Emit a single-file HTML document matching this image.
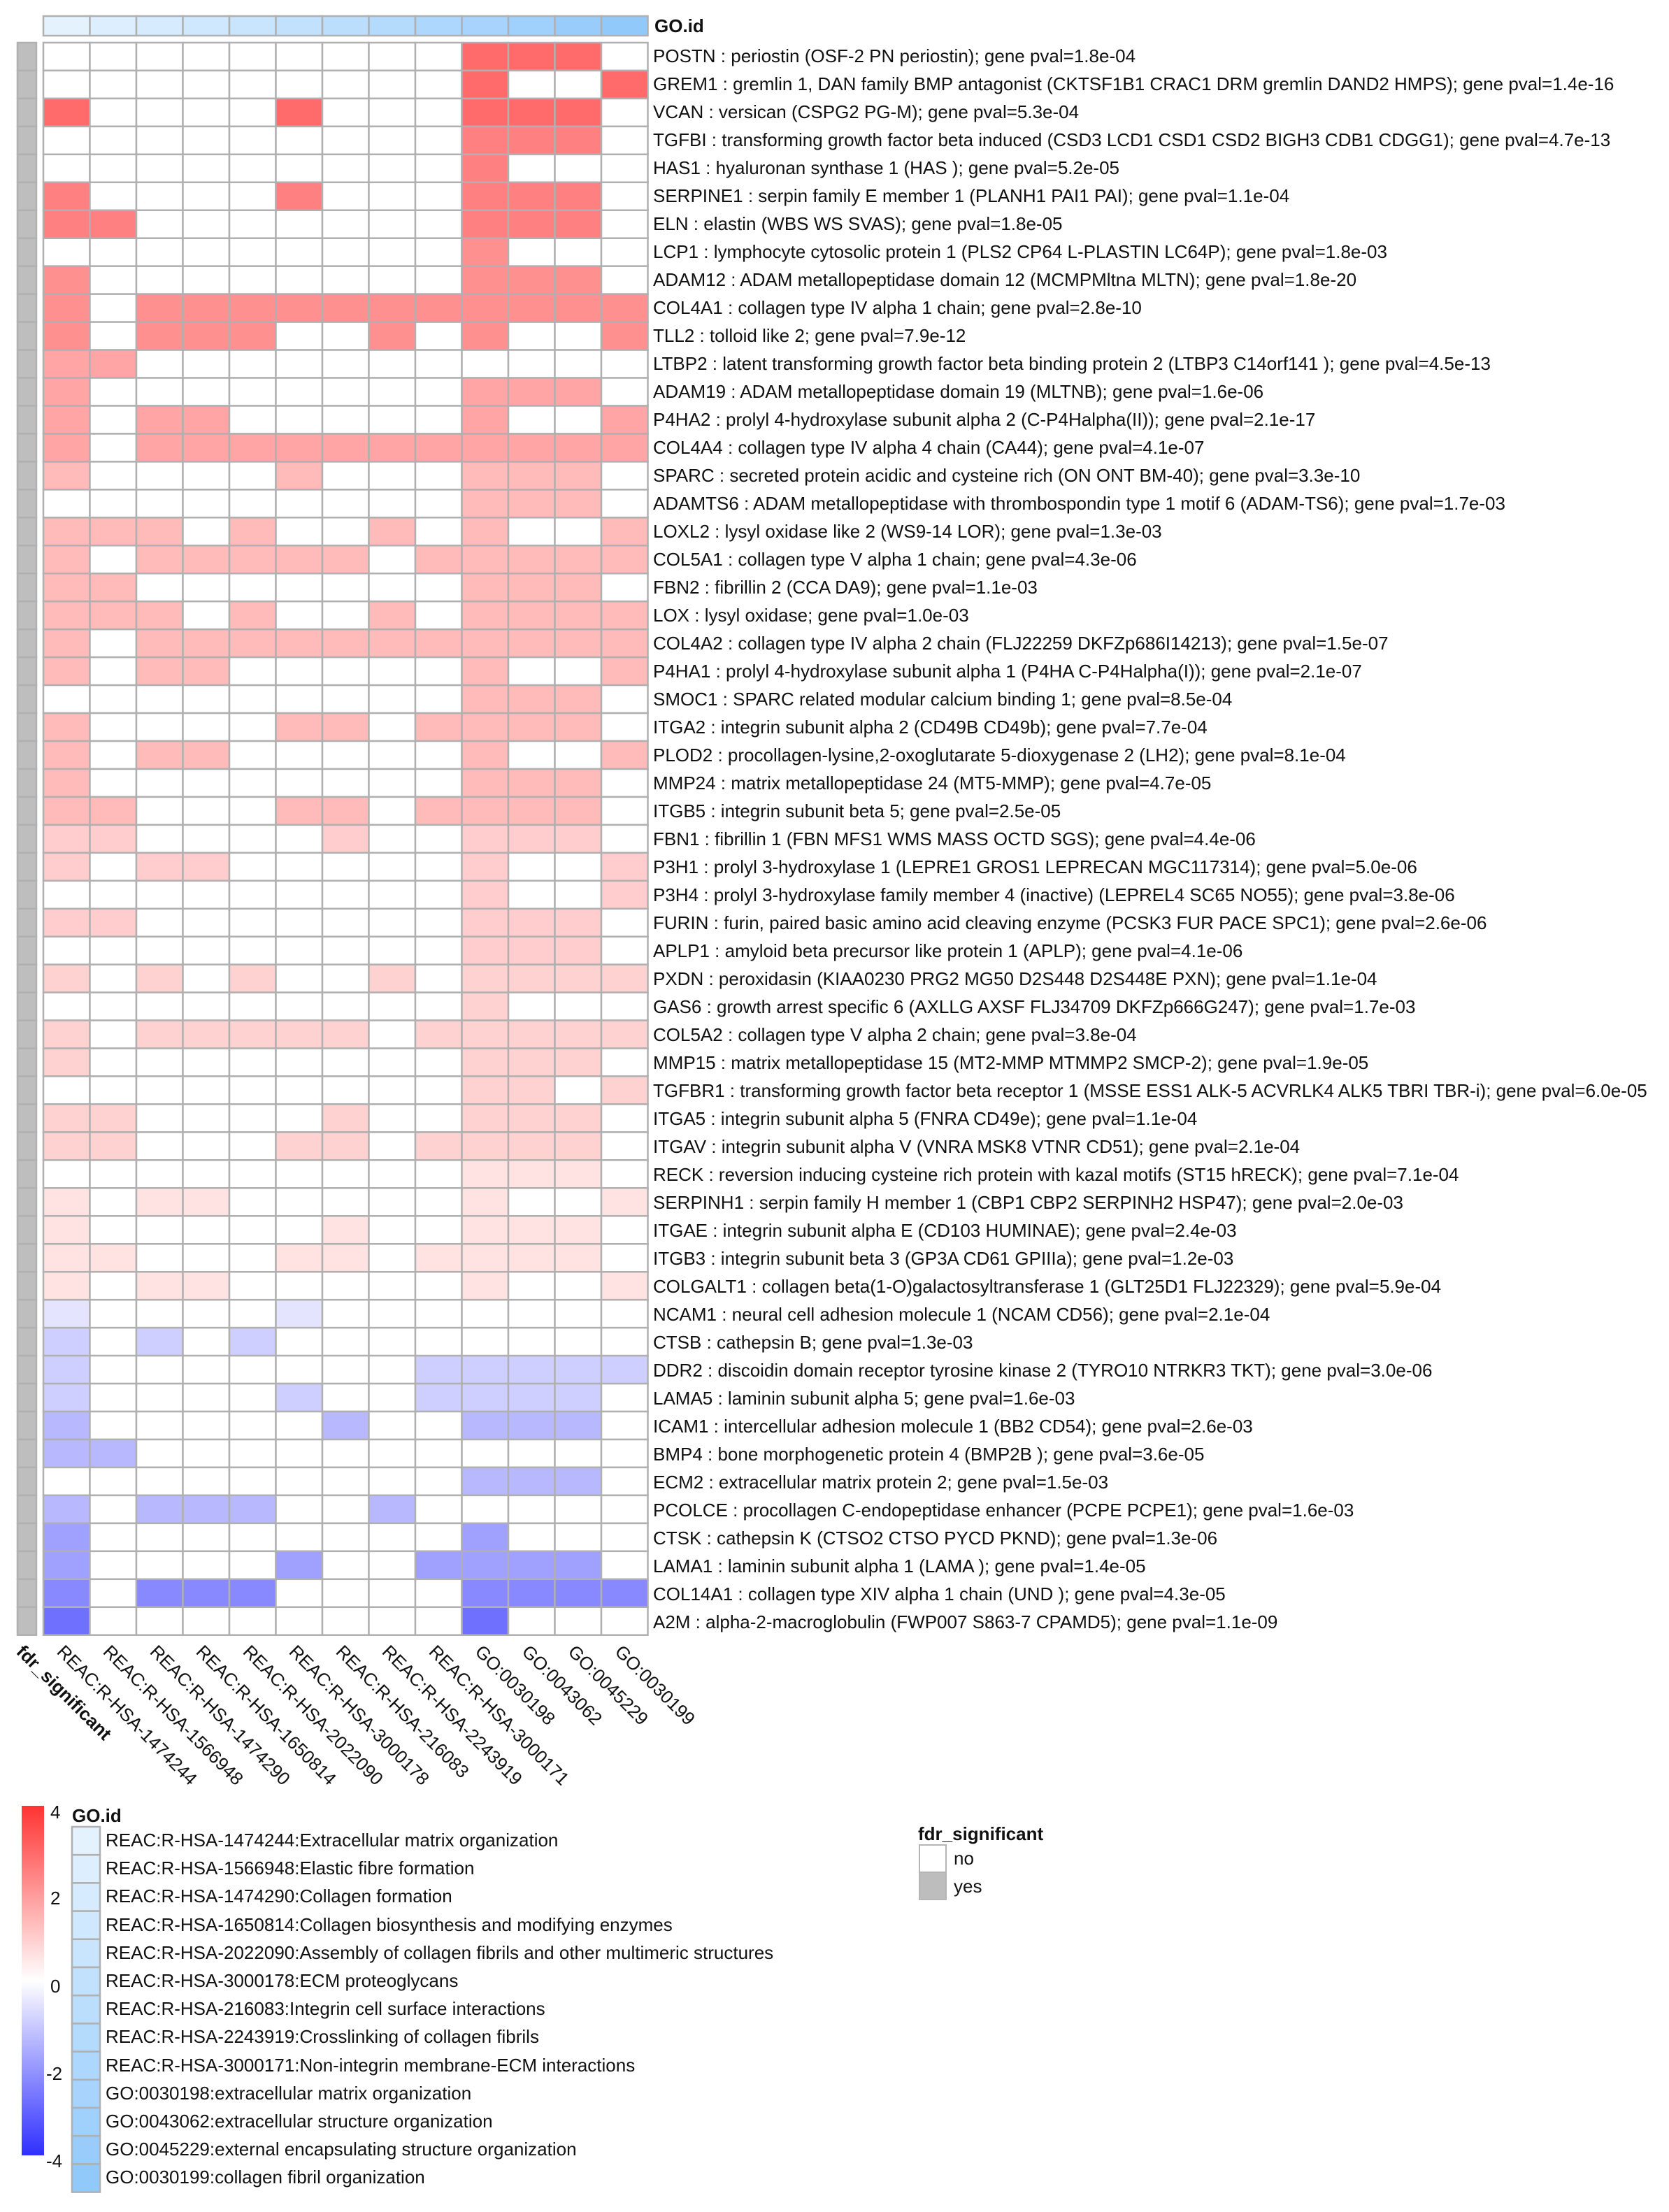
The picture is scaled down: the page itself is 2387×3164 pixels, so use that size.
<!DOCTYPE html>
<html><head><meta charset="utf-8"><style>
html,body{margin:0;padding:0;background:#fff;}
svg{display:block;}
text{font-family:"Liberation Sans",Arial,sans-serif;fill:#111;}
.lb{font-size:26px;}
.cl{font-size:26px;}
.b{font-weight:bold;}
</style></head><body>
<svg id="s" width="2387" height="3164" xmlns="http://www.w3.org/2000/svg">
<defs>
<linearGradient id="cb" x1="0" y1="0" x2="0" y2="1">
<stop offset="0" stop-color="#ff3333"/><stop offset="0.5" stop-color="#ffffff"/><stop offset="1" stop-color="#2f2fff"/>
</linearGradient>
</defs>
<g id="cells"></g>
<text x="936" y="46" class="lb b">GO.id</text>
<g class="lb">
<text x="934" y="89">POSTN : periostin (OSF-2 PN periostin); gene pval=1.8e-04</text>
<text x="934" y="129">GREM1 : gremlin 1, DAN family BMP antagonist (CKTSF1B1 CRAC1 DRM gremlin DAND2 HMPS); gene pval=1.4e-16</text>
<text x="934" y="169">VCAN : versican (CSPG2 PG-M); gene pval=5.3e-04</text>
<text x="934" y="209">TGFBI : transforming growth factor beta induced (CSD3 LCD1 CSD1 CSD2 BIGH3 CDB1 CDGG1); gene pval=4.7e-13</text>
<text x="934" y="249">HAS1 : hyaluronan synthase 1 (HAS ); gene pval=5.2e-05</text>
<text x="934" y="289">SERPINE1 : serpin family E member 1 (PLANH1 PAI1 PAI); gene pval=1.1e-04</text>
<text x="934" y="329">ELN : elastin (WBS WS SVAS); gene pval=1.8e-05</text>
<text x="934" y="369">LCP1 : lymphocyte cytosolic protein 1 (PLS2 CP64 L-PLASTIN LC64P); gene pval=1.8e-03</text>
<text x="934" y="409">ADAM12 : ADAM metallopeptidase domain 12 (MCMPMltna MLTN); gene pval=1.8e-20</text>
<text x="934" y="449">COL4A1 : collagen type IV alpha 1 chain; gene pval=2.8e-10</text>
<text x="934" y="489">TLL2 : tolloid like 2; gene pval=7.9e-12</text>
<text x="934" y="529">LTBP2 : latent transforming growth factor beta binding protein 2 (LTBP3 C14orf141 ); gene pval=4.5e-13</text>
<text x="934" y="569">ADAM19 : ADAM metallopeptidase domain 19 (MLTNB); gene pval=1.6e-06</text>
<text x="934" y="609">P4HA2 : prolyl 4-hydroxylase subunit alpha 2 (C-P4Halpha(II)); gene pval=2.1e-17</text>
<text x="934" y="649">COL4A4 : collagen type IV alpha 4 chain (CA44); gene pval=4.1e-07</text>
<text x="934" y="689">SPARC : secreted protein acidic and cysteine rich (ON ONT BM-40); gene pval=3.3e-10</text>
<text x="934" y="729">ADAMTS6 : ADAM metallopeptidase with thrombospondin type 1 motif 6 (ADAM-TS6); gene pval=1.7e-03</text>
<text x="934" y="769">LOXL2 : lysyl oxidase like 2 (WS9-14 LOR); gene pval=1.3e-03</text>
<text x="934" y="809">COL5A1 : collagen type V alpha 1 chain; gene pval=4.3e-06</text>
<text x="934" y="849">FBN2 : fibrillin 2 (CCA DA9); gene pval=1.1e-03</text>
<text x="934" y="889">LOX : lysyl oxidase; gene pval=1.0e-03</text>
<text x="934" y="929">COL4A2 : collagen type IV alpha 2 chain (FLJ22259 DKFZp686I14213); gene pval=1.5e-07</text>
<text x="934" y="969">P4HA1 : prolyl 4-hydroxylase subunit alpha 1 (P4HA C-P4Halpha(I)); gene pval=2.1e-07</text>
<text x="934" y="1009">SMOC1 : SPARC related modular calcium binding 1; gene pval=8.5e-04</text>
<text x="934" y="1049">ITGA2 : integrin subunit alpha 2 (CD49B CD49b); gene pval=7.7e-04</text>
<text x="934" y="1089">PLOD2 : procollagen-lysine,2-oxoglutarate 5-dioxygenase 2 (LH2); gene pval=8.1e-04</text>
<text x="934" y="1129">MMP24 : matrix metallopeptidase 24 (MT5-MMP); gene pval=4.7e-05</text>
<text x="934" y="1169">ITGB5 : integrin subunit beta 5; gene pval=2.5e-05</text>
<text x="934" y="1209">FBN1 : fibrillin 1 (FBN MFS1 WMS MASS OCTD SGS); gene pval=4.4e-06</text>
<text x="934" y="1249">P3H1 : prolyl 3-hydroxylase 1 (LEPRE1 GROS1 LEPRECAN MGC117314); gene pval=5.0e-06</text>
<text x="934" y="1289">P3H4 : prolyl 3-hydroxylase family member 4 (inactive) (LEPREL4 SC65 NO55); gene pval=3.8e-06</text>
<text x="934" y="1329">FURIN : furin, paired basic amino acid cleaving enzyme (PCSK3 FUR PACE SPC1); gene pval=2.6e-06</text>
<text x="934" y="1369">APLP1 : amyloid beta precursor like protein 1 (APLP); gene pval=4.1e-06</text>
<text x="934" y="1409">PXDN : peroxidasin (KIAA0230 PRG2 MG50 D2S448 D2S448E PXN); gene pval=1.1e-04</text>
<text x="934" y="1449">GAS6 : growth arrest specific 6 (AXLLG AXSF FLJ34709 DKFZp666G247); gene pval=1.7e-03</text>
<text x="934" y="1489">COL5A2 : collagen type V alpha 2 chain; gene pval=3.8e-04</text>
<text x="934" y="1529">MMP15 : matrix metallopeptidase 15 (MT2-MMP MTMMP2 SMCP-2); gene pval=1.9e-05</text>
<text x="934" y="1569">TGFBR1 : transforming growth factor beta receptor 1 (MSSE ESS1 ALK-5 ACVRLK4 ALK5 TBRI TBR-i); gene pval=6.0e-05</text>
<text x="934" y="1609">ITGA5 : integrin subunit alpha 5 (FNRA CD49e); gene pval=1.1e-04</text>
<text x="934" y="1649">ITGAV : integrin subunit alpha V (VNRA MSK8 VTNR CD51); gene pval=2.1e-04</text>
<text x="934" y="1689">RECK : reversion inducing cysteine rich protein with kazal motifs (ST15 hRECK); gene pval=7.1e-04</text>
<text x="934" y="1729">SERPINH1 : serpin family H member 1 (CBP1 CBP2 SERPINH2 HSP47); gene pval=2.0e-03</text>
<text x="934" y="1769">ITGAE : integrin subunit alpha E (CD103 HUMINAE); gene pval=2.4e-03</text>
<text x="934" y="1809">ITGB3 : integrin subunit beta 3 (GP3A CD61 GPIIIa); gene pval=1.2e-03</text>
<text x="934" y="1849">COLGALT1 : collagen beta(1-O)galactosyltransferase 1 (GLT25D1 FLJ22329); gene pval=5.9e-04</text>
<text x="934" y="1889">NCAM1 : neural cell adhesion molecule 1 (NCAM CD56); gene pval=2.1e-04</text>
<text x="934" y="1929">CTSB : cathepsin B; gene pval=1.3e-03</text>
<text x="934" y="1969">DDR2 : discoidin domain receptor tyrosine kinase 2 (TYRO10 NTRKR3 TKT); gene pval=3.0e-06</text>
<text x="934" y="2009">LAMA5 : laminin subunit alpha 5; gene pval=1.6e-03</text>
<text x="934" y="2049">ICAM1 : intercellular adhesion molecule 1 (BB2 CD54); gene pval=2.6e-03</text>
<text x="934" y="2089">BMP4 : bone morphogenetic protein 4 (BMP2B ); gene pval=3.6e-05</text>
<text x="934" y="2129">ECM2 : extracellular matrix protein 2; gene pval=1.5e-03</text>
<text x="934" y="2169">PCOLCE : procollagen C-endopeptidase enhancer (PCPE PCPE1); gene pval=1.6e-03</text>
<text x="934" y="2209">CTSK : cathepsin K (CTSO2 CTSO PYCD PKND); gene pval=1.3e-06</text>
<text x="934" y="2249">LAMA1 : laminin subunit alpha 1 (LAMA ); gene pval=1.4e-05</text>
<text x="934" y="2289">COL14A1 : collagen type XIV alpha 1 chain (UND ); gene pval=4.3e-05</text>
<text x="934" y="2329">A2M : alpha-2-macroglobulin (FWP007 S863-7 CPAMD5); gene pval=1.1e-09</text>
</g>
<g class="cl">
<text class="b" transform="translate(22,2364) rotate(45)">fdr_significant</text>
<text transform="translate(80,2364) rotate(45)">REAC:R-HSA-1474244</text>
<text transform="translate(146,2364) rotate(45)">REAC:R-HSA-1566948</text>
<text transform="translate(213,2364) rotate(45)">REAC:R-HSA-1474290</text>
<text transform="translate(279,2364) rotate(45)">REAC:R-HSA-1650814</text>
<text transform="translate(346,2364) rotate(45)">REAC:R-HSA-2022090</text>
<text transform="translate(412,2364) rotate(45)">REAC:R-HSA-3000178</text>
<text transform="translate(479,2364) rotate(45)">REAC:R-HSA-216083</text>
<text transform="translate(545,2364) rotate(45)">REAC:R-HSA-2243919</text>
<text transform="translate(612,2364) rotate(45)">REAC:R-HSA-3000171</text>
<text transform="translate(678,2364) rotate(45)">GO:0030198</text>
<text transform="translate(745,2364) rotate(45)">GO:0043062</text>
<text transform="translate(811,2364) rotate(45)">GO:0045229</text>
<text transform="translate(878,2364) rotate(45)">GO:0030199</text>
</g>
<rect x="31" y="2583" width="32" height="500" fill="url(#cb)"/>
<g class="lb">
<text x="72" y="2601">4</text>
<text x="72" y="2724">2</text>
<text x="72" y="2850">0</text>
<text x="66" y="2975">-2</text>
<text x="66" y="3100">-4</text>
<text x="103" y="2606" class="b">GO.id</text>
</g>
<g id="leg"></g>
<g class="lb">
<text x="151" y="2641">REAC:R-HSA-1474244:Extracellular matrix organization</text>
<text x="151" y="2681">REAC:R-HSA-1566948:Elastic fibre formation</text>
<text x="151" y="2721">REAC:R-HSA-1474290:Collagen formation</text>
<text x="151" y="2762">REAC:R-HSA-1650814:Collagen biosynthesis and modifying enzymes</text>
<text x="151" y="2802">REAC:R-HSA-2022090:Assembly of collagen fibrils and other multimeric structures</text>
<text x="151" y="2842">REAC:R-HSA-3000178:ECM proteoglycans</text>
<text x="151" y="2882">REAC:R-HSA-216083:Integrin cell surface interactions</text>
<text x="151" y="2922">REAC:R-HSA-2243919:Crosslinking of collagen fibrils</text>
<text x="151" y="2963">REAC:R-HSA-3000171:Non-integrin membrane-ECM interactions</text>
<text x="151" y="3003">GO:0030198:extracellular matrix organization</text>
<text x="151" y="3043">GO:0043062:extracellular structure organization</text>
<text x="151" y="3083">GO:0045229:external encapsulating structure organization</text>
<text x="151" y="3123">GO:0030199:collagen fibril organization</text>
<text x="1313" y="2632" class="b">fdr_significant</text>
<text x="1364" y="2667">no</text>
<text x="1364" y="2707">yes</text>
</g>
<rect x="1315" y="2639" width="38" height="39" fill="#fff" stroke="#b5b5b5" stroke-width="2"/>
<rect x="1315" y="2678" width="38" height="39" fill="#bdbdbd" stroke="#b5b5b5" stroke-width="2"/>
</svg>
<script>
(function(){
var NS="http://www.w3.org/2000/svg";
var g=document.getElementById("cells");
function R(p,x,y,w,h,f){var r=document.createElementNS(NS,"rect");r.setAttribute("x",x);r.setAttribute("y",y);r.setAttribute("width",w);r.setAttribute("height",h);r.setAttribute("fill",f);r.setAttribute("stroke","#b0b0b0");r.setAttribute("stroke-width","2.5");p.appendChild(r);}
function blue(i){var a=[228,242,254],b=[146,201,251],t=i/12;return "rgb("+a.map(function(v,k){return Math.round(v+(b[k]-v)*t)}).join(",")+")";}
var X0=62,CW=66.5,Y0=61,RH=39.96;
for(var c=0;c<13;c++)R(g,X0+c*CW,23,CW,28,blue(c));
var all=[0,2,3,4,5,6,7,8,9,10,11,12];
var rows=[
["#ff6b6b",[9,10,11]],["#ff6b6b",[9,12]],["#ff6b6b",[0,5,9,10,11]],
["#ff8080",[9,10,11]],["#ff8080",[9]],["#ff8080",[0,5,9,10,11]],["#ff8080",[0,1,9,10,11]],
["#ff9090",[9]],["#ff9090",[0,9,10,11]],["#ff9090",all],["#ff9090",[0,2,3,4,7,9,12]],
["#ffa5a5",[0,1]],["#ffa5a5",[0,9,10,11]],["#ffa5a5",[0,2,3,9,12]],["#ffa5a5",all],
["#ffbaba",[0,5,9,10,11]],["#ffbaba",[9,10,11]],["#ffbaba",[0,1,2,4,7,9,12]],["#ffbaba",[0,2,3,4,5,6,8,9,10,11,12]],
["#ffbaba",[0,1,9,10,11]],["#ffbaba",[0,1,2,4,7,9,10,11,12]],
["#ffbaba",all],["#ffbaba",[0,2,3,9,12]],["#ffbaba",[9,10,11]],["#ffbaba",[0,5,6,8,9,10,11]],["#ffbaba",[0,2,3,9,12]],["#ffbaba",[0,9,10,11]],["#ffbaba",[0,1,5,6,8,9,10,11]],
["#ffcdcd",[0,1,6,9,10,11]],["#ffcdcd",[0,2,3,9,12]],["#ffcdcd",[9,12]],["#ffcdcd",[0,1,9,10,11]],["#ffcdcd",[9,10,11]],
["#ffd2d2",[0,2,4,7,9,10,11,12]],["#ffd2d2",[9]],["#ffd2d2",[0,2,3,4,5,6,8,9,10,11,12]],["#ffd2d2",[0,9,10,11]],["#ffd2d2",[9,10,12]],["#ffd2d2",[0,1,6,9,10,11]],["#ffd2d2",[0,1,5,6,8,9,10,11]],
["#ffe2e2",[9,10,11]],["#ffe2e2",[0,2,3,9,12]],["#ffe2e2",[0,6,9,10,11]],["#ffe2e2",[0,1,5,6,8,9,10,11]],["#ffe2e2",[0,2,3,9,12]],
["#e4e4ff",[0,5]],["#cfcfff",[0,2,4]],["#cfcfff",[0,8,9,10,11,12]],["#cfcfff",[0,5,8,9,10,11]],
["#b8b8ff",[0,6,9,10,11]],["#b8b8ff",[0,1]],["#b8b8ff",[9,10,11]],["#b8b8ff",[0,2,3,4,7]],
["#a0a0ff",[0,9]],["#a0a0ff",[0,5,8,9,10,11]],["#8888ff",[0,2,3,4,9,10,11,12]],["#7070ff",[0,9]]
];
for(var i=0;i<rows.length;i++){
 var y=Y0+i*RH;
 R(g,25,y,27,RH,"#bebebe");
 for(var c=0;c<13;c++){R(g,X0+c*CW,y,CW,RH,rows[i][1].indexOf(c)>=0?rows[i][0]:"#ffffff");}
}
var lg=document.getElementById("leg");
for(var k=0;k<13;k++)R(lg,103,2613+k*40.2,40,40.2,blue(k));
})();
</script>
</body></html>
